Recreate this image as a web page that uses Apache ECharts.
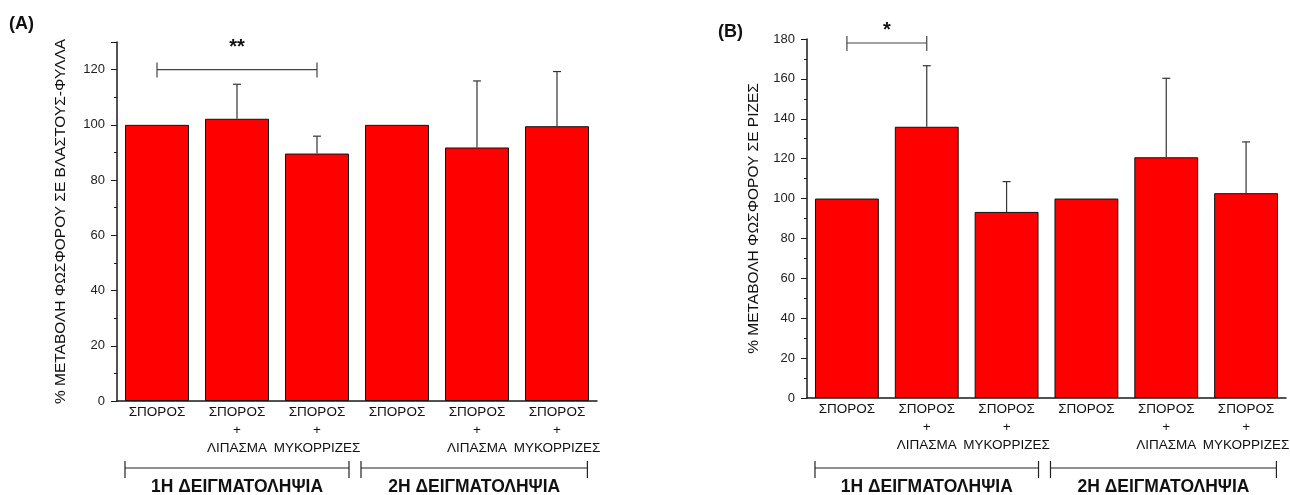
<!DOCTYPE html>
<html>
<head>
<meta charset="utf-8">
<script src="https://cdn.jsdelivr.net/npm/echarts@6/dist/echarts.min.js"></script>
<style>
  html, body { margin: 0; padding: 0; background: #fff; }
  #chart { width: 1290px; height: 495px; }
</style>
</head>
<body>
<div id="chart"></div>
<script>
// κατηγορίες (ίδιες και στα δύο διαγράμματα)
const categories = [
  "ΣΠΟΡΟΣ",
  "ΣΠΟΡΟΣ\n+\nΛΙΠΑΣΜΑ",
  "ΣΠΟΡΟΣ\n+\nΜΥΚΟΡΡΙΖΕΣ",
  "ΣΠΟΡΟΣ",
  "ΣΠΟΡΟΣ\n+\nΛΙΠΑΣΜΑ",
  "ΣΠΟΡΟΣ\n+\nΜΥΚΟΡΡΙΖΕΣ",
];

// (A) βλαστοί-φύλλα
const shootMeans = [100, 102.2, 89.6, 100, 91.8, 99.5];
const shootErr = [0, 12.5, 6.3, 0, 24.1, 19.8];
// (B) ρίζες
const rootMeans = [100, 136, 93.3, 100, 120.7, 102.7];
const rootErr = [0, 30.6, 15.2, 0, 39.6, 25.7];

// αστερίσκοι σημαντικότητας: [από, έως, ύψος]
const sigA = [0, 2, 120];
const sigB = [0, 1, 178];
const sigTextA = "**";
const sigTextB = "*";

// δειγματοληψίες
const groupLabels = ["1Η ΔΕΙΓΜΑΤΟΛΗΨΙΑ", "2Η ΔΕΙΓΜΑΤΟΛΗΨΙΑ"];
const groupSpans = [[-0.4, 2.4], [2.55, 5.38]];

const FONT = "'Liberation Sans', Arial, sans-serif";
const AXIS_COLOR = "#1a1a1a";

const chart = echarts.init(document.getElementById("chart"));

function xAt(api, v) {
  const x0 = api.coord([0, 0])[0];
  const w = api.size([1, 0])[0];
  return x0 + v * w;
}

function errRender(means, errs) {
  return function (params, api) {
    const i = params.dataIndex;
    if (!errs[i]) return null;
    const base = api.coord([i, means[i]]);
    const top = api.coord([i, means[i] + errs[i]]);
    const st = { stroke: "#333", lineWidth: 1.2 };
    return {
      type: "group",
      children: [
        { type: "line", shape: { x1: base[0], y1: base[1], x2: top[0], y2: top[1] }, style: st },
        { type: "line", shape: { x1: top[0] - 4, y1: top[1], x2: top[0] + 4, y2: top[1] }, style: st },
      ],
    };
  };
}

function sigRender(sig, txt, lift) {
  return function (params, api) {
    const a = api.coord([sig[0], sig[2]]);
    const b = api.coord([sig[1], sig[2]]);
    const st = { stroke: "#444", lineWidth: 1.2 };
    return {
      type: "group",
      children: [
        { type: "line", shape: { x1: a[0], y1: a[1], x2: b[0], y2: b[1] }, style: st },
        { type: "line", shape: { x1: a[0], y1: a[1] - 7, x2: a[0], y2: a[1] + 8 }, style: st },
        { type: "line", shape: { x1: b[0], y1: b[1] - 7, x2: b[0], y2: b[1] + 8 }, style: st },
        {
          type: "text",
          style: {
            text: txt, x: (a[0] + b[0]) / 2, y: a[1] - lift,
            textAlign: "center", textVerticalAlign: "middle",
            font: "bold 20px " + FONT, fill: "#111",
          },
        },
      ],
    };
  };
}

function groupRender(offset) {
  return function (params, api) {
    const i = params.dataIndex;
    const y = api.coord([0, 0])[1] + offset;
    const x1 = xAt(api, groupSpans[i][0]);
    const x2 = xAt(api, groupSpans[i][1]);
    const st = { stroke: "#222", lineWidth: 1.2 };
    return {
      type: "group",
      children: [
        { type: "line", shape: { x1: x1, y1: y, x2: x2, y2: y }, style: st },
        { type: "line", shape: { x1: x1, y1: y - 7, x2: x1, y2: y + 10 }, style: st },
        { type: "line", shape: { x1: x2, y1: y - 7, x2: x2, y2: y + 10 }, style: st },
        {
          type: "text",
          style: {
            text: groupLabels[i], x: (x1 + x2) / 2, y: y + 19,
            textAlign: "center", textVerticalAlign: "middle",
            font: "bold 17.5px " + FONT, fill: "#111",
          },
        },
      ],
    };
  };
}

function xAxisFor(gi) {
  return {
    type: "category",
    gridIndex: gi,
    data: categories,
    axisLine: { lineStyle: { color: AXIS_COLOR, width: 1.5 } },
    axisTick: { show: false },
    axisLabel: { color: "#111", fontSize: 13.5, lineHeight: 18, margin: 2, fontFamily: FONT, interval: 0, hideOverlap: false },
  };
}

function yAxisFor(gi, max, name, gap) {
  return {
    type: "value",
    gridIndex: gi,
    min: 0,
    max: max,
    interval: 20,
    name: name,
    nameLocation: "middle",
    nameGap: gap,
    nameTextStyle: { fontSize: 15.5, color: "#111", fontFamily: FONT },
    axisLine: { show: true, lineStyle: { color: AXIS_COLOR, width: 1.5 } },
    axisTick: { show: true, length: 6, lineStyle: { color: AXIS_COLOR } },
    minorTick: { show: true, splitNumber: 2, length: 3, lineStyle: { color: AXIS_COLOR } },
    splitLine: { show: false },
    axisLabel: { color: "#222", fontSize: 13, margin: 12, fontFamily: FONT, showMaxLabel: max % 20 === 0 },
  };
}

const barStyle = { color: "#fe0000", borderColor: "#111", borderWidth: 1 };

chart.setOption({
  animation: false,
  textStyle: { fontFamily: FONT },
  title: [
    { text: "(A)", left: 9, top: 15, padding: 0, textStyle: { fontSize: 18, fontWeight: "bold", color: "#111", fontFamily: FONT } },
    { text: "(B)", left: 718, top: 23, padding: 0, textStyle: { fontSize: 18, fontWeight: "bold", color: "#111", fontFamily: FONT } },
  ],
  grid: [
    { left: 117, right: 693, top: 42, bottom: 94, outerBoundsMode: "none", containLabel: false },
    { left: 807, right: 4, top: 39, bottom: 97, outerBoundsMode: "none", containLabel: false },
  ],
  xAxis: [xAxisFor(0), xAxisFor(1)],
  yAxis: [
    yAxisFor(0, 130, "% ΜΕΤΑΒΟΛΗ ΦΩΣΦΟΡΟΥ ΣΕ ΒΛΑΣΤΟΥΣ-ΦΥΛΛΑ", 48),
    yAxisFor(1, 180, "% ΜΕΤΑΒΟΛΗ ΦΩΣΦΟΡΟΥ ΣΕ ΡΙΖΕΣ", 45),
  ],
  series: [
    { type: "bar", xAxisIndex: 0, yAxisIndex: 0, data: shootMeans, barCategoryGap: "20%", itemStyle: barStyle },
    { type: "bar", xAxisIndex: 1, yAxisIndex: 1, data: rootMeans, barCategoryGap: "20%", itemStyle: barStyle },
    { type: "custom", xAxisIndex: 0, yAxisIndex: 0, data: shootMeans.map((v, i) => [i, v]), renderItem: errRender(shootMeans, shootErr), z: 5 },
    { type: "custom", xAxisIndex: 1, yAxisIndex: 1, data: rootMeans.map((v, i) => [i, v]), renderItem: errRender(rootMeans, rootErr), z: 5 },
    { type: "custom", xAxisIndex: 0, yAxisIndex: 0, data: [[0, 0]], renderItem: sigRender(sigA, sigTextA, 22), clip: false, z: 5 },
    { type: "custom", xAxisIndex: 1, yAxisIndex: 1, data: [[0, 0]], renderItem: sigRender(sigB, sigTextB, 13), clip: false, z: 5 },
    { type: "custom", xAxisIndex: 0, yAxisIndex: 0, data: groupLabels.map((_, i) => [i, 0]), renderItem: groupRender(67), clip: false, z: 5 },
    { type: "custom", xAxisIndex: 1, yAxisIndex: 1, data: groupLabels.map((_, i) => [i, 0]), renderItem: groupRender(70), clip: false, z: 5 },
  ],
});
</script>
</body>
</html>
